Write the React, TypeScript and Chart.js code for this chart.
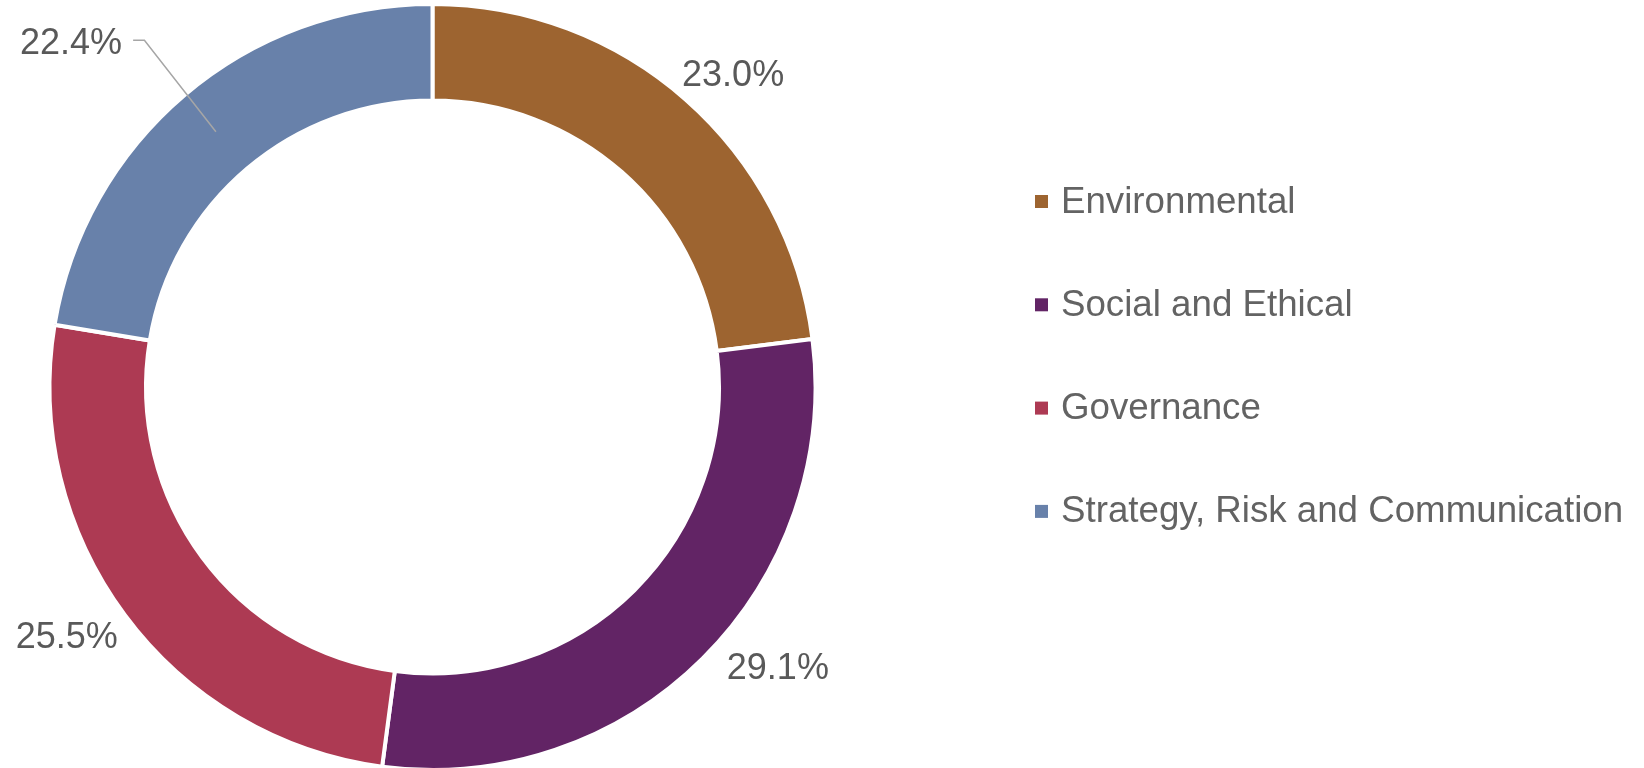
import React, { useEffect, useRef } from "react";
import { Chart, registerables } from "chart.js";

Chart.register(...registerables);

const categories = ["Environmental", "Social and Ethical", "Governance", "Strategy, Risk and Communication"];
const shares = [23.0, 29.1, 25.5, 22.4];
const colors = ["#9D6430", "#622465", "#AD3A53", "#6881AA"];

// label placement relative to each arc's mid angle (style only)
const LABEL_LAYOUT = [
  { dAngle: 2.4, k: 1.134, callout: false },
  { dAngle: -6.2, k: 1.16, callout: false },
  { dAngle: 2.4, k: 1.1535, callout: false },
  { dAngle: 0.6, k: 1.177, callout: true },
];

const LABEL_COLOR = "#595959";
const LEGEND_COLOR = "#636363";
const LABEL_FONT = '36px "Liberation Sans", Arial, sans-serif';
const LEGEND_FONT = '36.7px "Liberation Sans", Arial, sans-serif';

const labelPlugin = {
  id: "pctLabels",
  afterDatasetsDraw(chart: any) {
    const ctx = chart.ctx;
    const meta = chart.getDatasetMeta(0);
    const data = chart.data.datasets[0].data as number[];
    ctx.save();
    ctx.font = LABEL_FONT;
    ctx.fillStyle = LABEL_COLOR;
    ctx.textBaseline = "alphabetic";
    meta.data.forEach((arc: any, i: number) => {
      const { x, y, startAngle, endAngle, outerRadius, innerRadius } = arc.getProps(
        ["x", "y", "startAngle", "endAngle", "outerRadius", "innerRadius"],
        true
      );
      const mid = (startAngle + endAngle) / 2;
      const lay = LABEL_LAYOUT[i];
      const a = mid + (lay.dAngle * Math.PI) / 180;
      const r = outerRadius * lay.k;
      const px = x + r * Math.cos(a);
      const py = y + r * Math.sin(a);
      const text = data[i].toFixed(1) + "%";
      if (lay.callout) {
        const rm = (outerRadius + innerRadius) / 2;
        const ex = x + rm * Math.cos(mid);
        const ey = y + rm * Math.sin(mid);
        ctx.strokeStyle = "#A6A6A6";
        ctx.lineWidth = 1.5;
        ctx.beginPath();
        ctx.moveTo(ex, ey);
        ctx.lineTo(px, py);
        ctx.lineTo(px - 11.3, py);
        ctx.stroke();
        ctx.textAlign = "right";
        ctx.fillText(text, px - 22.3, py + 13.6);
      } else {
        ctx.textAlign = "center";
        ctx.fillText(text, px, py + 12.9);
      }
    });
    ctx.restore();
  },
};

const LEGEND_BOX_X = 1035;
const LEGEND_TEXT_X = 1061;
const LEGEND_BASE = 212.5;
const LEGEND_STEP = 103.3;
const LEGEND_BOX = 13;

const legendPlugin = {
  id: "sideLegend",
  afterDraw(chart: any) {
    const ctx = chart.ctx;
    const labels = chart.data.labels as string[];
    const bg = chart.data.datasets[0].backgroundColor as string[];
    ctx.save();
    ctx.font = LEGEND_FONT;
    ctx.textAlign = "left";
    ctx.textBaseline = "alphabetic";
    labels.forEach((lab, i) => {
      const base = LEGEND_BASE + i * LEGEND_STEP;
      ctx.fillStyle = bg[i];
      ctx.fillRect(LEGEND_BOX_X, base - 11 - LEGEND_BOX / 2, LEGEND_BOX, LEGEND_BOX);
      ctx.fillStyle = LEGEND_COLOR;
      ctx.fillText(lab, LEGEND_TEXT_X, base);
    });
    ctx.restore();
  },
};

export default function App() {
  const ref = useRef<HTMLCanvasElement | null>(null);
  useEffect(() => {
    document.body.style.margin = "0";
    document.body.style.overflow = "hidden";
    document.documentElement.style.overflow = "hidden";
    if (!ref.current) return;
    const chart = new Chart(ref.current, {
      type: "doughnut",
      data: {
        labels: categories,
        datasets: [
          {
            data: shares,
            backgroundColor: colors,
            borderColor: "#FFFFFF",
            borderWidth: 4,
            hoverOffset: 0,
          },
        ],
      },
      options: {
        animation: false,
        responsive: true,
        maintainAspectRatio: false,
        cutout: "74.8%",
        layout: { padding: { left: 47.5, top: 2, right: 826.5, bottom: 0 } },
        plugins: {
          legend: { display: false },
          tooltip: { enabled: false },
        },
      },
      plugins: [labelPlugin, legendPlugin],
    });
    return () => chart.destroy();
  }, []);
  return (
    <div style={{ width: 1644, height: 772, position: "relative", background: "#FFFFFF", overflow: "hidden" }}>
      <canvas ref={ref} />
    </div>
  );
}
